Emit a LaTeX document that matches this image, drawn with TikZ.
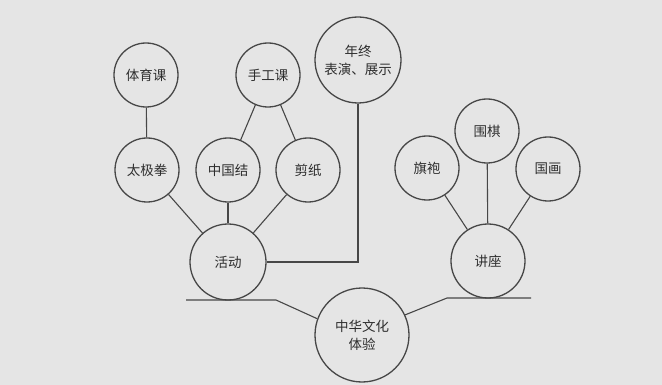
\documentclass[tikz,border=0pt]{standalone}
\usepackage{fontspec}
\setmainfont{Noto Sans CJK SC}
\begin{document}
\begin{tikzpicture}[x=1pt,y=-1pt,
  bub/.style={circle,draw=black!72,line width=1.3pt,minimum size=#1,inner sep=0pt,align=center,font=\fontsize{13.5}{18}\selectfont,text=black!82},
  bub/.default=64pt,
  con/.style={draw=black!72,line width=1.1pt}]
\fill[black!10] (0,0) rectangle (662,385);
\useasboundingbox (0,0) rectangle (662,385);
\node[bub] (tiyu) at (146,75) {体育课};
\node[bub] (shougong) at (268,75) {手工课};
\node[bub=86pt] (nianzhong) at (358,60) {年终\\表演、展示};
\node[bub] (taiji) at (147,170) {太极拳};
\node[bub] (zhongguojie) at (228,170) {中国结};
\node[bub] (jianzhi) at (308,170) {剪纸};
\node[bub=76pt] (huodong) at (228,262) {活动};
\node[bub] (qipao) at (427,168) {旗袍};
\node[bub] (weiqi) at (487,131) {围棋};
\node[bub] (guohua) at (548,169) {国画};
\node[bub=74pt] (jiangzuo) at (488,261) {讲座};
\node[bub=94pt] (zhonghua) at (362,335) {中华文化\\体验};
\draw[con] (tiyu) -- (taiji);
\draw[con] (shougong) -- (zhongguojie);
\draw[con] (shougong) -- (jianzhi);
\draw[con] (taiji) -- (huodong);
\draw[con] (zhongguojie) -- (huodong);
\draw[con] (jianzhi) -- (huodong);
\draw[con] (nianzhong.south) |- (huodong.east);
\draw[con] (qipao) -- (jiangzuo);
\draw[con] (weiqi) -- (jiangzuo);
\draw[con] (guohua) -- (jiangzuo);
\coordinate (la) at (186,300);
\coordinate (lb) at (276,300);
\coordinate (ra) at (447,298);
\coordinate (rb) at (531,298);
\draw[con] (la) -- (lb) -- (zhonghua.160);
\draw[con] (rb) -- (ra) -- (zhonghua.25);
\end{tikzpicture}
\end{document}
